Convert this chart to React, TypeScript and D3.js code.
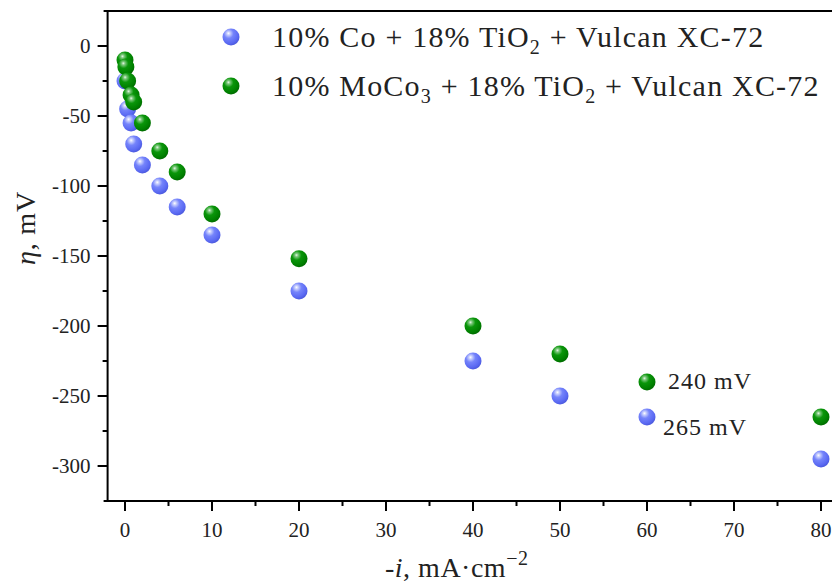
import React from "react";
import * as d3 from "d3";

const coX = [0, 0.3, 0.7, 1, 2, 4, 6, 10, 20, 40, 50, 60, 80];
const coY = [-25, -45, -55, -70, -85, -100, -115, -135, -175, -225, -250, -265, -295];
const moX = [0, 0.1, 0.3, 0.7, 1, 2, 4, 6, 10, 20, 40, 50, 60, 80];
const moY = [-10, -15, -25, -35, -40, -55, -75, -90, -120, -152, -200, -220, -240, -265];
const xMajor = [0, 10, 20, 30, 40, 50, 60, 70, 80];
const xMinor = [5, 15, 25, 35, 45, 55, 65, 75];
const yMajor = [0, -50, -100, -150, -200, -250, -300];
const yMinor = [-25, -75, -125, -175, -225, -275];
const annotations = [
  { x: 60, y: -240, text: "240 mV" },
  { x: 60, y: -265, text: "265 mV" },
];

const W = 832;
const H = 585;
const FONT = "'Liberation Serif', 'Times New Roman', serif";

export default function App() {
  const x = d3.scaleLinear().domain([-2, 82]).range([107.6, 838.4]);
  const y = d3.scaleLinear().domain([-325, 25]).range([501, 11]);
  const left = x(-2);
  const top = y(25);
  const bottom = y(-325);
  const right = x(82);

  const co = coX.map((v, i) => [v, coY[i]]);
  const mo = moX.map((v, i) => [v, moY[i]]);

  return (
    <svg width={W} height={H} style={{ display: "block", position: "absolute", left: 0, top: 0, background: "#fff" }}>
      <defs>
        <radialGradient id="gBlue" cx="38%" cy="32%" r="70%" fx="35%" fy="28%">
          <stop offset="0%" stopColor="#ffffff" />
          <stop offset="14%" stopColor="#c8cffd" />
          <stop offset="40%" stopColor="#7584fb" />
          <stop offset="80%" stopColor="#5a69f2" />
          <stop offset="100%" stopColor="#4a58dc" />
        </radialGradient>
        <radialGradient id="gGreen" cx="38%" cy="32%" r="70%" fx="35%" fy="28%">
          <stop offset="0%" stopColor="#e8f8e8" />
          <stop offset="14%" stopColor="#7cc87c" />
          <stop offset="40%" stopColor="#0a960a" />
          <stop offset="80%" stopColor="#008000" />
          <stop offset="100%" stopColor="#006a00" />
        </radialGradient>
      </defs>
      <rect x={0} y={0} width={W} height={H} fill="#fff" />

      {/* frame */}
      <line x1={left - 4} x2={right} y1={top} y2={top} stroke="#000" strokeWidth={2} />
      <line x1={right} x2={right} y1={top} y2={bottom} stroke="#000" strokeWidth={2} />
      <line x1={left} x2={left} y1={top - 1} y2={bottom + 1} stroke="#000" strokeWidth={2} />
      <line x1={left - 4} x2={right} y1={bottom} y2={bottom} stroke="#000" strokeWidth={2} />

      {/* y ticks */}
      {yMajor.map((v) => (
        <g key={"ym" + v}>
          <line x1={left - 10} x2={left} y1={y(v)} y2={y(v)} stroke="#000" strokeWidth={2} />
          <text x={left - 17} y={y(v)} dy="0.35em" textAnchor="end" fontFamily={FONT} fontSize={21} fill="#222">
            {v === 0 ? "0" : "-" + Math.abs(v)}
          </text>
        </g>
      ))}
      {yMinor.map((v) => (
        <line key={"yn" + v} x1={left - 5} x2={left} y1={y(v)} y2={y(v)} stroke="#000" strokeWidth={2} />
      ))}

      {/* x ticks */}
      {xMajor.map((v) => (
        <g key={"xm" + v}>
          <line x1={x(v)} x2={x(v)} y1={bottom} y2={bottom + 10} stroke="#000" strokeWidth={2} />
          <text x={x(v)} y={bottom + 36} textAnchor="middle" fontFamily={FONT} fontSize={21} fill="#222">
            {v}
          </text>
        </g>
      ))}
      {xMinor.map((v) => (
        <line key={"xn" + v} x1={x(v)} x2={x(v)} y1={bottom} y2={bottom + 5} stroke="#000" strokeWidth={2} />
      ))}

      {/* axis titles */}
      <text transform={`translate(35, 228) rotate(-90)`} textAnchor="middle" fontFamily={FONT} fontSize={28} letterSpacing={0.8} fill="#222">
        <tspan fontStyle="italic">η</tspan>, mV
      </text>
      <text x={385} y={577} fontFamily={FONT} fontSize={28} letterSpacing={0.5} fill="#222">
        -<tspan fontStyle="italic">i</tspan>, mA·cm
        <tspan dy={-12} fontSize={20}>−2</tspan>
      </text>

      {/* data */}
      {co.map((d, i) => (
        <circle key={"c" + i} cx={x(d[0])} cy={y(d[1])} r={8.5} fill="url(#gBlue)" />
      ))}
      {mo.map((d, i) => (
        <circle key={"m" + i} cx={x(d[0])} cy={y(d[1])} r={8.5} fill="url(#gGreen)" />
      ))}

      {/* annotations */}
      <text x={x(annotations[0].x) + 21} y={y(annotations[0].y) + 7} fontFamily={FONT} fontSize={24} letterSpacing={1} fill="#222">
        {annotations[0].text}
      </text>
      <text x={x(annotations[1].x) + 16} y={y(annotations[1].y) + 18} fontFamily={FONT} fontSize={24} letterSpacing={1} fill="#222">
        {annotations[1].text}
      </text>

      {/* legend */}
      <circle cx={231} cy={37} r={8.5} fill="url(#gBlue)" />
      <text x={272} y={47} fontFamily={FONT} fontSize={30} letterSpacing={1.2} fill="#222">
        10% Co + 18% TiO<tspan dy={7} fontSize={20}>2</tspan>
        <tspan dy={-7}> + Vulcan XC-72</tspan>
      </text>
      <circle cx={231} cy={86} r={8.5} fill="url(#gGreen)" />
      <text x={272} y={96} fontFamily={FONT} fontSize={30} letterSpacing={1.2} fill="#222">
        10% MoCo<tspan dy={7} fontSize={20}>3</tspan>
        <tspan dy={-7}> + 18% TiO</tspan>
        <tspan dy={7} fontSize={20}>2</tspan>
        <tspan dy={-7}> + Vulcan XC-72</tspan>
      </text>
    </svg>
  );
}
